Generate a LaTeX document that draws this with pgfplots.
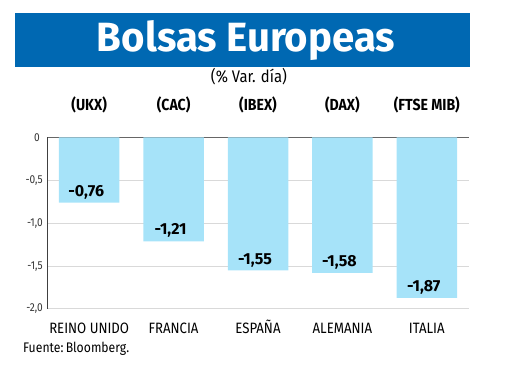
\documentclass[border=0pt]{standalone}
\usepackage{pgfplots}
\pgfplotsset{compat=1.18}
\usepackage{fontspec}
\setmainfont{Fira Sans}
\newfontfamily\condfont[FakeStretch=0.88]{Fira Sans}
\definecolor{titleblue}{RGB}{0,104,178}
\definecolor{barcol}{RGB}{166,227,249}
\begin{document}
\begin{tikzpicture}[x=1pt,y=1pt]
\path[use as bounding box] (0,0) rectangle (520,390);
\fill[titleblue] (15,323.3) rectangle (470,377);
\node[anchor=base, inner sep=0pt, text=white] at (246,338.3) {\resizebox{298pt}{31pt}{\bfseries Bolsas Europeas}};
\node[anchor=base, inner sep=0pt] at (249,307.5) {\resizebox{76pt}{!}{\condfont(\% Var. día)}};
\node[anchor=base west, inner sep=0pt] at (23,37) {\resizebox{106pt}{!}{\condfont Fuente:\,Bloomberg.}};
\begin{axis}[
  at={(47pt,81pt)}, anchor=south west,
  scale only axis, width=422pt, height=171.5pt,
  xmin=-0.5, xmax=4.5, ymin=-2, ymax=0,
  ybar, bar width=60.5pt,
  clip=false,
  axis line style={draw=none},
  tick style={draw=none},
  xtick={0,1,2,3,4},
  xticklabels={REINO UNIDO,FRANCIA,ESPAÑA,ALEMANIA,ITALIA},
  xticklabel style={font=\condfont\fontsize{15}{15}\selectfont, anchor=base, inner sep=0pt, yshift=-20.3pt},
  ytick={-2,-1.5,-1,-0.5},
  yticklabels={{-2,0},{-1,5},{-1,0},{-0,5}},
  yticklabel style={font=\condfont\fontsize{11.5}{11.5}\selectfont, text=black!80, inner sep=0pt, xshift=-4pt},
  ymajorgrids,
  grid style={draw=black!15, line width=1pt},
  extra y ticks={0},
  extra y tick labels={0},
  extra y tick style={grid style={draw=black!60, line width=1.5pt}, yticklabel style={xshift=-3pt}},
  nodes near coords,
  point meta=explicit symbolic,
  every node near coord/.append style={anchor=base, yshift=6.3pt, xshift=-3pt, inner sep=0pt, font=\bfseries\fontsize{16}{16}\selectfont, text=black},
]
\addplot[fill=barcol, draw=none] coordinates {
  (0,-0.76) [-0,76]
  (1,-1.21) [-1,21]
  (2,-1.55) [-1,55]
  (3,-1.58) [-1,58]
  (4,-1.87) [-1,87]
};
\draw[black!75, line width=1pt] (axis cs:-0.5,0) -- (axis cs:-0.5,-2);
\begin{scope}[every node/.style={anchor=base, inner sep=0pt, yshift=26.5pt, font=\condfont\bfseries\fontsize{16}{16}\selectfont}]
\node at (axis cs:0,0) {(UKX)};
\node at (axis cs:1,0) {(CAC)};
\node at (axis cs:2,0) {(IBEX)};
\node at (axis cs:3,0) {(DAX)};
\node at (axis cs:4,0) {(FTSE MIB)};
\end{scope}
\end{axis}
\end{tikzpicture}
\end{document}
